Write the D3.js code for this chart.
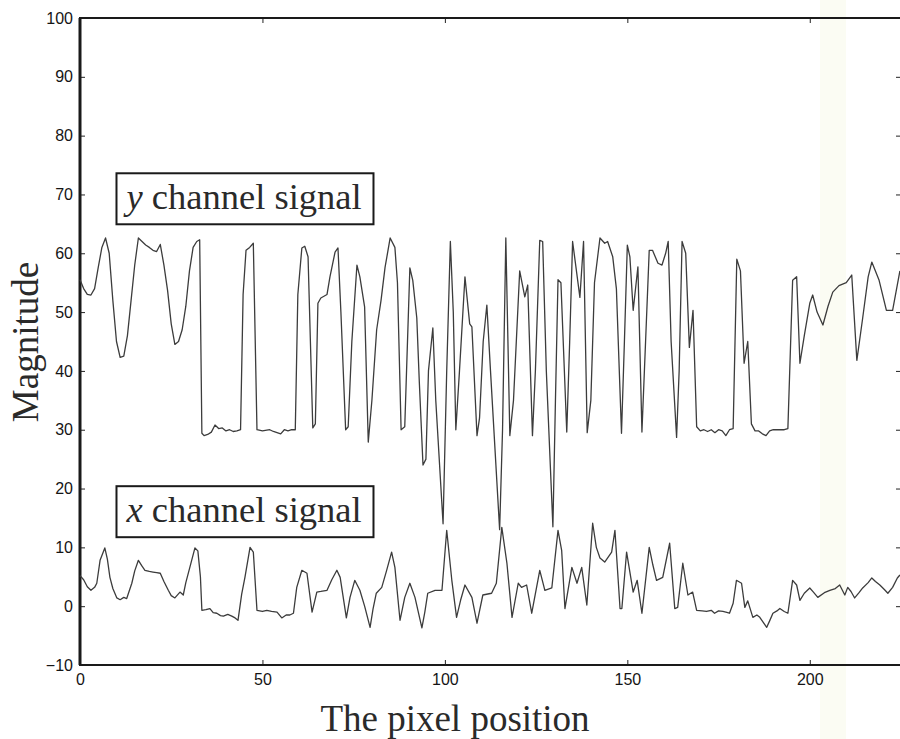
<!DOCTYPE html>
<html>
<head>
<meta charset="utf-8">
<script src="https://cdn.jsdelivr.net/npm/d3@7"></script>
<style>
    body { margin: 0; background: #fff; }
    .tick text { font-family: "Liberation Sans", Arial, sans-serif; font-size: 16px; fill: #151515; }
    .tick line { stroke: #222; }
</style>
</head>
<body>
<div class="chart"></div>
<script>
//tick values
var xTicks = [0, 50, 100, 150, 200];
var yTicks = [-10, 0, 10, 20, 30, 40, 50, 60, 70, 80, 90, 100];

//y channel signal (pixel position, magnitude)
var yChanPos = [0, 1, 2, 3, 4, 5, 6, 7, 8, 9, 10, 11, 12, 13, 14, 15, 16, 17, 18, 19, 20, 21, 22, 23, 24, 25, 26, 27, 28, 29, 30, 31, 32, 32.8,
    33.4, 34, 35, 36, 37, 38, 39, 40, 41, 42, 43, 44, 44.7, 45.5, 46.5, 47.5, 48.5, 50, 52, 53, 55, 56, 57, 58, 59,
    59.7, 60.8, 61.6, 62.5, 63.8, 64.5, 65.2, 66, 67.7, 68.5, 69.9, 70.7, 71.5, 72.8, 73.5, 74.5, 75.9, 76.7, 78, 79,
    80, 81.3, 82.5, 83.6, 85, 86.3, 87, 88, 89, 90.4, 91.2, 92.3, 93, 94, 94.8, 95.5, 96.7, 97.5, 99.5, 100.5, 101.5,
    102.3, 103, 104, 105.5, 106.8, 107.4, 108.8, 109.5, 110.5, 111.5, 112.5, 115, 115.8, 116.7, 117.8, 118.8, 120.5,
    121.9, 122.7, 124, 124.8, 126, 126.8, 127.8, 129.6, 130.3, 131, 131.8, 133.4, 134.2, 135, 137, 138, 139, 140, 141,
    142.5, 143.8, 144.6, 146, 147, 148.4, 149.2, 150, 150.7, 151.6, 152.9, 154, 155, 156, 156.9, 158.4, 159.5, 160.5,
    161.2, 162, 163.5, 164.2, 165, 166, 167, 168, 169, 170, 171, 172, 173, 174, 175, 176, 177, 178, 179, 180, 181, 182,
    183, 184, 185, 186, 187, 188, 189, 190, 191, 192, 193, 194, 195.3, 196.4, 197.3, 198.5, 200, 200.8, 202, 203.6, 205,
    206.3, 208, 210, 211.5, 212.9, 214.5, 216, 217, 219, 221, 222.7, 224.7];
var yChanVal = [55.5, 54, 53, 52.9, 54, 57.6, 61, 62.6, 60, 52, 45, 42.3, 42.5, 46, 52, 58, 62.6, 62, 61.4, 61, 60.5, 60.3, 61.5, 58, 53.7, 48, 44.5, 45, 47, 51, 57, 61, 62, 62.3,
    29.4, 29, 29.2, 29.6, 30.8, 30.2, 30.3, 29.8, 30, 29.7, 29.8, 30, 53, 60.5, 61, 61.7, 30, 29.8, 30, 29.7, 29.3, 30, 29.8, 30, 30,
    53, 60.9, 61.2, 59.4, 30.3, 31, 51.5, 52.4, 53, 56, 60.2, 60.9, 50, 30, 30.5, 45, 58, 56, 50.9, 27.9,
    35, 47, 52, 57.6, 62.6, 61, 55, 30, 30.5, 57.5, 55.4, 49, 38, 24, 25, 40, 47.3, 35, 14, 40, 62,
    50, 30, 40, 56, 48, 47.5, 29, 32, 45, 51.2, 40, 13, 30, 62.6, 29, 35, 57,
    52.6, 54.6, 29, 40, 62.2, 62, 40, 13.5, 35, 55.5, 55, 29.6, 45, 62, 52.5, 62, 29.5, 35, 55,
    62.6, 61.7, 62, 59.4, 54, 29.4, 45, 61.4, 59.4, 50.3, 57.7, 29.6, 45, 60.5, 60.5, 58.3, 58, 60,
    62, 45, 28.7, 40, 62, 60, 44, 50.3, 30.5, 29.8, 30, 29.7, 30, 29.5, 30, 29.8, 29, 30, 30.2, 59, 57, 41.3,
    45, 31, 29.8, 29.8, 29.3, 29, 29.8, 30, 30, 30, 30, 30.2, 55.4, 56, 41.3, 46, 51.5, 52.9, 50, 47.8, 51,
    53.4, 54.5, 55, 56.3, 41.8, 49, 56, 58.5, 55.4, 50.3, 50.3, 57];

//x channel signal (pixel position, magnitude)
var xChanPos = [0, 1, 2, 3, 4, 4.6, 5.5, 6.8, 7.5, 8.2, 9, 10.1, 11, 12, 12.8, 14.2, 15, 16, 17, 17.8, 19, 20, 21, 22, 23, 24.2, 25, 26,
    27.4, 28.3, 29, 30.1, 31.5, 32.3, 33, 33.4, 34.5, 35.6, 36.5, 37.5, 38.5, 39.3, 40.5, 41.6, 42.5, 43.3, 44.3, 45.2,
    46.6, 47.5, 48.5, 50, 51.2, 52.5, 54, 55.3, 56.5, 57.5, 58.5, 59.4, 60.8, 62.2, 63.6, 64.9, 66, 67.7, 69, 70.4,
    71.3, 73, 74, 75.3, 76.7, 78, 79.5, 80.3, 81.2, 82.7, 84, 85.4, 86.3, 87.7, 89, 90.4, 91.8, 93.7, 94.5, 95.3, 97.3,
    99.2, 100.5, 101.9, 103.2, 104.3, 105.5, 107.4, 108.8, 110.4, 112.8, 114.1, 115.6, 117, 118.4, 120.1, 121, 122.4,
    123.8, 126, 127.4, 129.3, 131, 132, 132.9, 134.8, 136.2, 137.5, 138.9, 140.5, 141.5, 142.5, 143.8, 145.7, 146.6,
    148, 148.5, 149.8, 151.6, 152.7, 154, 156, 157, 158, 159.7, 161.6, 163, 163.8, 165.2, 166.6, 167.9, 169, 170.5,
    171.7, 173, 173.9, 175, 176.2, 177, 178, 179, 179.9, 181.3, 182.2, 183, 184.4, 185.5, 186.3, 187.3, 188.2, 189,
    189.9, 191, 191.8, 193, 194, 195.3, 196.4, 197.3, 198.5, 200, 201, 202.2, 204, 205.5, 207, 208.2, 209.6, 210.4,
    211.3, 212.3, 213.5, 214.5, 216, 217, 218, 219.2, 220.5, 221.4, 222.7, 224, 224.7];
var xChanVal = [5.2, 4.5, 3.3, 2.7, 3.2, 3.9, 7.8, 9.9, 8, 4.9, 3, 1.4, 1.1, 1.5, 1.3, 3.9, 6, 7.8, 6.8, 6.1, 5.9, 5.8, 5.7, 5.6, 4.2, 2.7, 1.8, 1.4,
    2.4, 1.9, 4, 6.6, 9.9, 9.4, 5, -0.7, -0.6, -0.4, -1.1, -1.2, -1.6, -1.7, -1.4, -1.7, -2, -2.4, 2, 4.9,
    10, 9.2, -0.7, -0.9, -0.7, -0.9, -1, -2, -1.5, -1.5, -1.2, 3.2, 6.1, 5.6, -1, 2.4, 2.5, 2.7, 4.5, 6.1,
    4.9, -2, 1.5, 4.4, 2.7, 0, -3.6, -0.5, 2.2, 3.2, 6, 9.2, 6.6, -2.4, 1.5, 3.9, 1.5, -3.7, -1, 2.2, 2.7,
    2.7, 12.9, 4.4, -1.9, 1, 3.6, 1.5, -2.9, 1.9, 2.2, 3.9, 13.4, 7.3, -1.9, 3.9, 3.2, 3.6,
    -1.2, 6.1, 2.7, 3.1, 12.9, 9.5, -0.4, 6.6, 3.9, 6.6, 0.2, 14.1, 10, 8.2, 7.5, 9.2, 12.9,
    -0.4, -0.4, 9.2, 2.4, 4.4, -1.2, 10, 7, 4.4, 4.9, 10.7, -0.4, -0.2, 7.3, 1.9, 2.4, -0.7, -0.8,
    -0.9, -0.7, -1.2, -0.8, -0.9, -1, -1.2, 0.5, 4.4, 3.9, -0.2, 0.9, -1.9, -1.5, -1.9, -2.8, -3.6, -2.5,
    -1.2, -0.8, -0.4, -0.9, -1.2, 4.4, 3.6, 1, 2.2, 3.1, 2.4, 1.5, 2.3, 2.7, 3, 3.6, 1.9, 3.2,
    2.5, 1.4, 2.3, 3.1, 4, 4.8, 4.2, 3.6, 2.8, 2.2, 3.2, 4.8, 5.3];

//labels (val = magnitude at top edge of the box)
var labelText = [
    {italic: "y", rest: " channel signal", val: 73.6},
    {italic: "x", rest: " channel signal", val: 20.4}
];

var svgWidth = 900;
var svgHeight = 739;

var margin = {top: 18, right: -1, bottom: 74, left: 80};
var chartWidth = svgWidth - margin.left - margin.right;
var chartHeight = svgHeight - margin.top - margin.bottom;

var svg = d3.select(".chart").append("svg")
    .attr("width", svgWidth)
    .attr("height", svgHeight)
    .style("display", "block");

//faint scan band on the right
svg.append("rect")
    .attr("x", 820)
    .attr("y", 0)
    .attr("width", 26)
    .attr("height", svgHeight)
    .attr("fill", "#fbfcf3");

var chartGroup = svg.append("g")
    .attr("transform", `translate(${margin.left}, ${margin.top})`);

var xScale = d3.scaleLinear()
    .domain([0, 225])
    .range([0, chartWidth]);

var yScale = d3.scaleLinear()
    .domain([-10, 100])
    .range([chartHeight, 0]);

//axes with inward ticks on all four sides
var bottomAxis = d3.axisBottom(xScale).tickValues(xTicks).tickSize(-5).tickPadding(9).tickFormat(d3.format("d"));
var leftAxis = d3.axisLeft(yScale).tickValues(yTicks).tickSize(-5).tickPadding(7).tickFormat(d3.format("d"));
var topAxis = d3.axisTop(xScale).tickValues(xTicks).tickSize(-5).tickFormat("");
var rightAxis = d3.axisRight(yScale).tickValues(yTicks).tickSize(-5).tickFormat("");

chartGroup.append("g")
    .attr("transform", `translate(0, ${chartHeight})`)
    .call(bottomAxis)
    .call(g => g.select(".domain").remove());

chartGroup.append("g")
    .call(leftAxis)
    .call(g => g.select(".domain").remove());

chartGroup.append("g")
    .call(topAxis)
    .call(g => g.select(".domain").remove());

chartGroup.append("g")
    .attr("transform", `translate(${chartWidth}, 0)`)
    .call(rightAxis)
    .call(g => g.select(".domain").remove());

//frame
chartGroup.append("rect")
    .attr("x", 0)
    .attr("y", 0)
    .attr("width", chartWidth)
    .attr("height", chartHeight)
    .attr("fill", "none")
    .attr("stroke", "#1a1a1a")
    .attr("stroke-width", 2);

chartGroup.append("line")
    .attr("x1", 0).attr("x2", 0)
    .attr("y1", 0).attr("y2", chartHeight)
    .attr("stroke", "#1a1a1a")
    .attr("stroke-width", 3);

//signal lines
var line = d3.line()
    .x(d => xScale(d[0]))
    .y(d => yScale(d[1]));

var yData = yChanPos.map((p, i) => [p, yChanVal[i]]);
var xData = xChanPos.map((p, i) => [p, xChanVal[i]]);

[yData, xData].forEach(function(series) {
    chartGroup.append("path")
        .datum(series)
        .attr("d", line)
        .attr("fill", "none")
        .attr("stroke", "#3c3c3c")
        .attr("stroke-width", 1.3)
        .attr("stroke-linejoin", "round");
});

//boxed labels
labelText.forEach(function(lab) {
    var g = chartGroup.append("g")
        .attr("transform", `translate(${xScale(10)}, ${yScale(lab.val)})`);
    g.append("rect")
        .attr("x", 0)
        .attr("y", 0)
        .attr("width", 257)
        .attr("height", 51)
        .attr("fill", "#fff")
        .attr("stroke", "#1a1a1a")
        .attr("stroke-width", 2);
    var t = g.append("text")
        .attr("x", 10)
        .attr("y", 36)
        .attr("font-family", "'Liberation Serif', 'DejaVu Serif', serif")
        .attr("font-size", 36.5)
        .attr("fill", "#2a2a2a");
    t.append("tspan").attr("font-style", "italic").text(lab.italic);
    t.append("tspan").text(lab.rest);
});

//axis titles
svg.append("text")
    .attr("x", 455)
    .attr("y", 731)
    .attr("text-anchor", "middle")
    .attr("font-family", "'Liberation Serif', 'DejaVu Serif', serif")
    .attr("font-size", 37)
    .attr("fill", "#2a2a2a")
    .text("The pixel position");

svg.append("text")
    .attr("transform", "rotate(-90)")
    .attr("x", -342)
    .attr("y", 38)
    .attr("text-anchor", "middle")
    .attr("font-family", "'Liberation Serif', 'DejaVu Serif', serif")
    .attr("font-size", 37)
    .attr("fill", "#2a2a2a")
    .text("Magnitude");
</script>
</body>
</html>
